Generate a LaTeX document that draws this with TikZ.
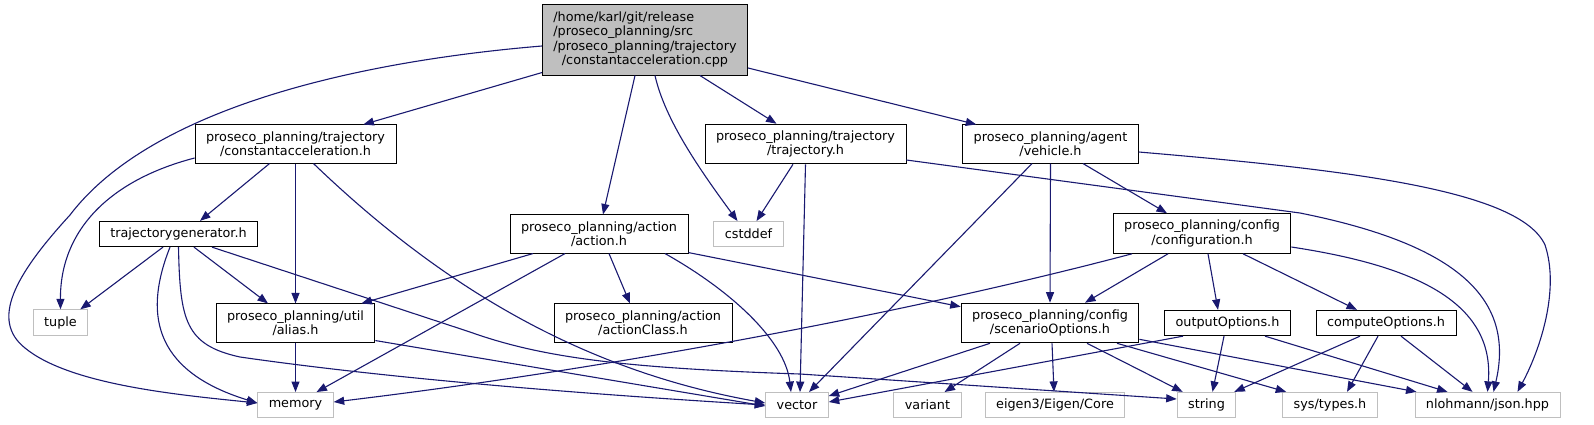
\documentclass[tikz,border=0pt]{standalone}
\usepackage{fontspec}
\setmainfont{DejaVu Sans}
\usetikzlibrary{arrows.meta}
\definecolor{dgedge}{HTML}{191970}
\definecolor{dggrey}{HTML}{BFBFBF}
\newcommand\graphfont{\fontsize{12.8pt}{14.3pt}\selectfont}

\begin{document}
\begin{tikzpicture}[
  x=1pt, y=-1pt,
  file/.style={draw=black, fill=white, line width=0.9pt, font=\graphfont, inner xsep=11pt, inner ysep=6.5pt, minimum height=25pt, align=center},
  sysfile/.style={file, draw=dggrey},
  mainfile/.style={file, fill=dggrey},
  dep/.style={draw=dgedge, line width=1.1pt, -{Triangle[length=10.5pt,width=8pt]}}
]
\useasboundingbox (0,0) rectangle (1594,424);

\node[mainfile] (root) at (645,40) {\begin{tabular}{@{}l@{}}/home/karl/git/release\\/proseco\_planning/src\\/proseco\_planning/trajectory\\\multicolumn{1}{@{}c@{}}{/constantacceleration.cpp}\end{tabular}};

\node[file] (cah) at (295.5,144) {proseco\_planning/trajectory\\/constantacceleration.h};
\node[file] (trh) at (805.5,144) {proseco\_planning/trajectory\\/trajectory.h};
\node[file] (veh) at (1050.5,144) {proseco\_planning/agent\\/vehicle.h};

\node[file] (tgen) at (178.5,234) {trajectorygenerator.h};
\node[file] (act) at (599,234) {proseco\_planning/action\\/action.h};
\node[sysfile] (cstd) at (748.5,234) {cstddef};
\node[file] (conf) at (1202,233.5) {proseco\_planning/config\\/configuration.h};

\node[sysfile] (tuple) at (60.5,322.5) {tuple};
\node[file] (alias) at (295.5,323) {proseco\_planning/util\\/alias.h};
\node[file] (acls) at (643,323) {proseco\_planning/action\\/actionClass.h};
\node[file] (scen) at (1050,323) {proseco\_planning/config\\/scenarioOptions.h};
\node[file] (outo) at (1227.5,323) {outputOptions.h};
\node[file] (compo) at (1386,323) {computeOptions.h};

\node[sysfile] (memory) at (295.5,405) {memory};
\node[sysfile] (vector) at (797,405) {vector};
\node[sysfile] (variant) at (927.5,405) {variant};
\node[sysfile] (eigen) at (1055,405) {eigen3/Eigen/Core};
\node[sysfile] (string) at (1206.5,405) {string};
\node[sysfile] (systypes) at (1330,405) {sys/types.h};
\node[sysfile] (json) at (1487.5,405) {nlohmann/json.hpp};

% constantacceleration.cpp
\draw[dep] ([yshift=-6pt]root.west) .. controls (350,62) and (150,110) .. (70,215) .. controls (15,275) and (-10,320) .. (25,348) .. controls (70,385) and (180,395) .. ([yshift=2pt]memory.west);
\draw[dep] ([yshift=3pt]root.south west) -- ([xshift=-33pt]cah.north east);
\draw[dep] ([xshift=-10pt]root.south) -- ([xshift=4pt]act.north);
\draw[dep] ([xshift=10pt]root.south) .. controls (665,120) and (700,170) .. ([xshift=-11pt]cstd.north);
\draw[dep] ([xshift=55pt]root.south) -- ([xshift=-29pt]trh.north);
\draw[dep] ([yshift=-28pt]root.east) -- ([xshift=14pt]veh.north west);

% constantacceleration.h
\draw[dep] ([yshift=-14pt]cah.west) .. controls (110,180) and (60,230) .. (tuple.north);
\draw[dep] ([xshift=-26pt]cah.south) -- ([xshift=21.5pt]tgen.north);
\draw[dep] (cah.south) -- (alias.north);
\draw[dep] ([xshift=18pt]cah.south) .. controls (440,285) and (580,370) .. ([yshift=2pt]vector.west);

% trajectorygenerator.h
\draw[dep] ([xshift=-15.5pt]tgen.south) -- ([xshift=-8pt]tuple.north east);
\draw[dep] ([xshift=-8.5pt]tgen.south) .. controls (145,310) and (150,370) .. ([yshift=2pt]memory.west);
\draw[dep] (tgen.south) .. controls (180,320) and (185,345) .. (240,357) .. controls (400,380) and (600,395) .. (vector.west);
\draw[dep] ([xshift=15.5pt]tgen.south) -- ([xshift=-27.5pt]alias.north);
\draw[dep] ([xshift=33.5pt]tgen.south) -- (470,332) .. controls (540,357) and (620,368) .. (800,374) -- ([yshift=6pt]string.west);

% action.h
\draw[dep] ([xshift=-66pt]act.south) -- ([xshift=-14pt]alias.north east);
\draw[dep] ([xshift=-34pt]act.south) -- ([xshift=21pt]memory.north);
\draw[dep] ([xshift=10pt]act.south) -- ([xshift=-13pt]acls.north);
\draw[dep] ([xshift=66pt]act.south) .. controls (730,290) and (785,340) .. ([xshift=-6pt]vector.north);
\draw[dep] ([yshift=1pt]act.south east) -- ([yshift=-4pt]scen.north west);

% trajectory.h
\draw[dep] ([xshift=-12.5pt]trh.south) -- ([xshift=8pt]cstd.north);
\draw[dep] (trh.south) -- ([xshift=3pt]vector.north);
\draw[dep] ([yshift=-16pt]trh.east) -- (1300,213) .. controls (1460,245) and (1515,300) .. ([xshift=6pt]json.north);

% vehicle.h
\draw[dep] ([xshift=-18.5pt]veh.south) -- ([xshift=12pt]vector.north);
\draw[dep] (veh.south) -- (scen.north);
\draw[dep] ([xshift=32.5pt]veh.south) -- ([xshift=-35pt]conf.north);
\draw[dep] ([yshift=-8pt]veh.east) .. controls (1350,170) and (1520,190) .. (1545,245) .. controls (1560,290) and (1540,350) .. ([xshift=30pt]json.north);

% configuration.h
\draw[dep] ([xshift=-70pt]conf.south) .. controls (900,315) and (600,370) .. ([yshift=3pt]memory.east);
\draw[dep] ([xshift=-34pt]conf.south) -- ([xshift=35pt]scen.north);
\draw[dep] ([xshift=6pt]conf.south) -- ([xshift=-9.5pt]outo.north);
\draw[dep] ([xshift=41pt]conf.south) -- ([xshift=-29pt]compo.north);
\draw[dep] ([yshift=-13.5pt]conf.east) .. controls (1410,265) and (1495,300) .. (json.north);

% alias.h
\draw[dep] (alias.south) -- (memory.north);
\draw[dep] ([yshift=2pt]alias.south east) -- ([yshift=-1pt]vector.west);

% scenarioOptions.h
\draw[dep] ([xshift=-60pt]scen.south) -- ([yshift=9pt]vector.east);
\draw[dep] ([xshift=-30pt]scen.south) -- ([xshift=17pt]variant.north);
\draw[dep] ([xshift=2pt]scen.south) -- ([xshift=-1pt]eigen.north);
\draw[dep] ([xshift=37pt]scen.south) -- ([xshift=6pt]string.north west);
\draw[dep] ([xshift=67pt]scen.south) -- ([xshift=4pt]systypes.north west);
\draw[dep] ([yshift=4pt]scen.south east) -- ([xshift=2pt]json.north west);

% outputOptions.h
\draw[dep] ([xshift=-44.5pt]outo.south) -- ([yshift=3pt]vector.east);
\draw[dep] ([xshift=-3.5pt]outo.south) -- ([xshift=6pt]string.north);
\draw[dep] ([xshift=37.5pt]outo.south) -- ([xshift=33pt]json.north west);

% computeOptions.h
\draw[dep] ([xshift=-26pt]compo.south) -- ([xshift=-2pt]string.north east);
\draw[dep] ([xshift=-8pt]compo.south) -- ([xshift=17pt]systypes.north);
\draw[dep] ([xshift=15pt]compo.south) -- ([xshift=58pt]json.north west);
\end{tikzpicture}
\end{document}
